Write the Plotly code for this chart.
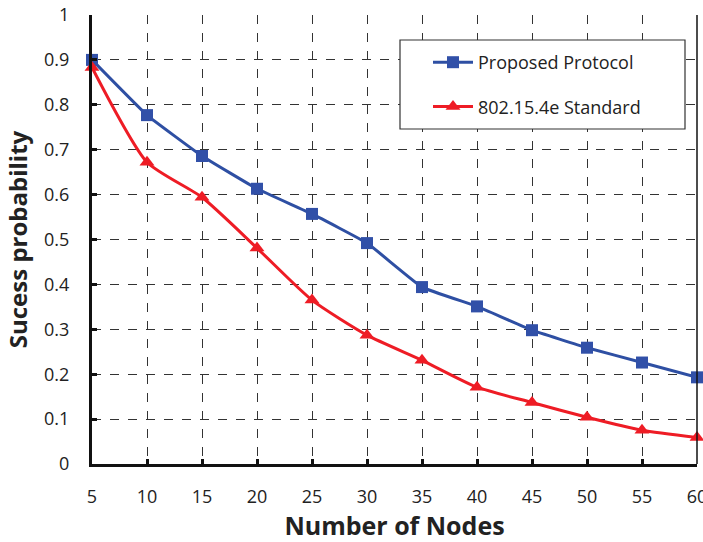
import plotly.graph_objects as go

nodes = [5, 10, 15, 20, 25, 30, 35, 40, 45, 50, 55, 60]
proposed = [0.90, 0.777, 0.686, 0.613, 0.557, 0.492, 0.394, 0.351, 0.298, 0.259, 0.226, 0.193]
standard = [0.883, 0.672, 0.594, 0.481, 0.365, 0.287, 0.231, 0.171, 0.137, 0.104, 0.075, 0.059]
y_ticks = [0, 0.1, 0.2, 0.3, 0.4, 0.5, 0.6, 0.7, 0.8, 0.9, 1]
y_tick_text = ["0", "0.1", "0.2", "0.3", "0.4", "0.5", "0.6", "0.7", "0.8", "0.9", "1"]

FONT = "Open Sans, sans-serif"

fig = go.Figure()
fig.add_trace(go.Scatter(
    x=nodes, y=proposed, name="Proposed Protocol", mode="lines+markers",
    line=dict(color="#2E4FA3", width=3, shape="spline", smoothing=0.3),
    marker=dict(symbol="square", size=12, color="#3150A8"),
    cliponaxis=False, legendgroup="a"))
fig.add_trace(go.Scatter(
    x=nodes, y=standard, name="802.15.4e Standard", mode="lines+markers",
    line=dict(color="#EE1C25", width=3, shape="spline", smoothing=0.6),
    marker=dict(symbol="triangle-up", size=13, color="#EE1C25"),
    cliponaxis=False, legendgroup="b"))

fig.update_layout(
    width=703, height=542,
    margin=dict(l=92, r=6, t=15, b=78, autoexpand=False),
    paper_bgcolor="white", plot_bgcolor="white",
    font=dict(family=FONT, size=18, color="#222222"),
    showlegend=True,
    legend=dict(x=(428 - 92) / 605, y=(464 - 44) / 449, xanchor="left", yanchor="top",
                borderwidth=0, bgcolor="rgba(0,0,0,0)",
                font=dict(size=18, color="#222222"),
                tracegroupgap=18, itemwidth=40),
    xaxis=dict(range=[5, 60], tickmode="array", tickvals=nodes,
               ticks="inside", ticklen=5, tickwidth=3, tickcolor="#111111",
               showline=True, linecolor="#111111", linewidth=3,
               showgrid=True, gridcolor="#333333", gridwidth=1, griddash="dash",
               zeroline=False, ticklabeloverflow="allow", automargin=False,
               title=dict(text="<b>Number of Nodes</b>", font=dict(size=25, color="#222222"), standoff=12),
               tickfont=dict(size=18), ticklabelstandoff=14),
    yaxis=dict(range=[0, 1], tickmode="array", tickvals=y_ticks, ticktext=y_tick_text,
               ticks="inside", ticklen=5, tickwidth=3, tickcolor="#111111",
               showline=True, linecolor="#111111", linewidth=3,
               showgrid=True, gridcolor="#333333", gridwidth=1, griddash="dash",
               zeroline=False, automargin=False,
               title=dict(text="<b>Sucess probability</b>", font=dict(size=24, color="#222222"), standoff=10),
               tickfont=dict(size=18), ticklabelstandoff=16),
    shapes=[
        dict(type="line", xref="paper", yref="paper", x0=1, x1=1, y0=0, y1=1,
             line=dict(color="#111111", width=1.5)),
        dict(type="rect", xref="paper", yref="paper",
             x0=(400 - 92) / 605, x1=(685 - 92) / 605,
             y0=(464 - 129) / 449, y1=(464 - 40) / 449,
             line=dict(color="#333333", width=1.2), fillcolor="white", layer="above"),
    ],
)

fig.write_html("out.html")
